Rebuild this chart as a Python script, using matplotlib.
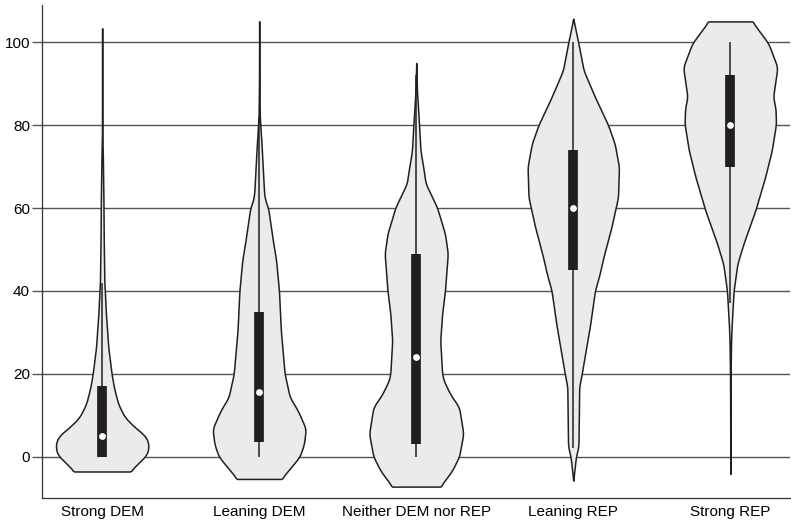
import numpy as np
import matplotlib
matplotlib.use("Agg")
import matplotlib.pyplot as plt

# Categories
groups = ["Strong DEM", "Leaning DEM", "Neither DEM nor REP", "Leaning REP", "Strong REP"]

# Violin outlines: y values and relative density (1.0 = widest)
v1_y = [-3.6, 0.6, 3.1, 5.1, 7.1, 9.5, 12.7, 16.7, 20, 26.4, 34.5, 42.5, 52, 62, 72, 78, 90, 103.5]
v1_d = [0.59, 0.96, 0.99, 0.91, 0.69, 0.48, 0.34, 0.25, 0.20, 0.13, 0.08, 0.046, 0.034, 0.027, 0.015, 0.004, 0.001, 0]

v2_y = [-5.4, 0, 3, 6.7, 11.1, 14.3, 20, 30.4, 40, 47.3, 52.2, 60, 61.8, 63.5, 74.7, 82, 90, 105.2]
v2_d = [0.47, 0.86, 0.95, 0.99, 0.82, 0.65, 0.54, 0.46, 0.42, 0.36, 0.29, 0.19, 0.13, 0.105, 0.053, 0.013, 0.004, 0]

v3_y = [-7.25, -3.4, 0, 5.5, 11.9, 15.1, 18.4, 20, 28, 34.5, 40, 49, 53.8, 60.2, 65.9, 68.3, 73.9, 79.5, 88.4, 94.9]
v3_d = [0.51, 0.76, 0.91, 1.0, 0.91, 0.72, 0.58, 0.55, 0.51, 0.55, 0.61, 0.67, 0.61, 0.44, 0.20, 0.17, 0.09, 0.063, 0.015, 0]

v4_y = [-5.8, 0, 2.4, 7.2, 16.8, 20, 32, 40, 44.1, 48.1, 55.4, 62.6, 69.9, 75.5, 80, 86.8, 93.2, 99.7, 105.7]
v4_d = [0, 0.057, 0.11, 0.116, 0.126, 0.18, 0.36, 0.46, 0.56, 0.64, 0.81, 0.95, 0.97, 0.88, 0.74, 0.46, 0.22, 0.11, 0]

v5_y = [-4.2, 10, 20, 27.2, 31.2, 40, 46.5, 51.4, 59.4, 67.5, 73.9, 80.3, 84, 86.8, 90, 94, 99.7, 105.1]
v5_d = [0, 0.002, 0.006, 0.015, 0.027, 0.07, 0.15, 0.28, 0.53, 0.74, 0.88, 0.97, 0.96, 0.91, 0.95, 1.0, 0.81, 0.46]

# Box summary
medians = [5, 15.5, 24, 60, 80]
q1 = [0, 3.5, 3, 45, 70]
q3 = [17, 35, 49, 74, 92]
whisk_lo = [0, 0, 0, 2, 37]
whisk_hi = [42, 82, 92, 100, 100]

outlines = [(v1_y, v1_d), (v2_y, v2_d), (v3_y, v3_d), (v4_y, v4_d), (v5_y, v5_d)]


def smooth_outline(ys, ds, step=0.25, win=9):
    # resample the read-off outline and soften the corners a little
    grid = np.arange(ys[0], ys[-1] + step / 2, step)
    vals = np.interp(grid, ys, ds)
    k = np.ones(win) / win
    padded = np.pad(vals, win // 2, mode="edge")
    sm = np.convolve(padded, k, mode="valid")
    sm[0], sm[-1] = vals[0], vals[-1]
    return grid, sm


plt.rcParams['font.family'] = ['Liberation Sans', 'DejaVu Sans']

fig = plt.figure(figsize=(7.91, 5.23), dpi=100)
ax = fig.add_axes([0.0537, 0.0478, 0.945, 0.9426])

half = 0.30
dark = "#231f20"
for i, (ys, ds) in enumerate(outlines):
    pos = i + 1
    gy, gd = smooth_outline(ys, ds)
    w = gd * half
    ax.fill_betweenx(gy, pos - w, pos + w, facecolor="#ebebeb", edgecolor=dark,
                     linewidth=1.1, zorder=2)
    ax.vlines(pos, whisk_lo[i], whisk_hi[i], color=dark, linewidth=1.1, zorder=3)
    ax.vlines(pos, q1[i], q3[i], color=dark, linewidth=7, zorder=4)
    ax.scatter([pos], [medians[i]], s=24, color="white", zorder=5, linewidths=0)

ax.set_xlim(0.62, 5.38)
ax.set_ylim(-10, 109)
ax.set_xticks(range(1, 6))
ax.set_xticklabels(groups, fontsize=11)
ax.set_yticks([0, 20, 40, 60, 80, 100])
ax.tick_params(axis='y', labelsize=11, length=7, width=1.0, color="#555555", pad=2)
ax.tick_params(axis='x', length=0, pad=5)
ax.yaxis.grid(True, color="#555555", linewidth=1.0, zorder=0)
ax.set_axisbelow(True)

for s in ["top", "right"]:
    ax.spines[s].set_visible(False)
for s in ["left", "bottom"]:
    ax.spines[s].set_color("#333333")
    ax.spines[s].set_linewidth(0.9)

plt.savefig("out.png", dpi=100)
plt.close()
